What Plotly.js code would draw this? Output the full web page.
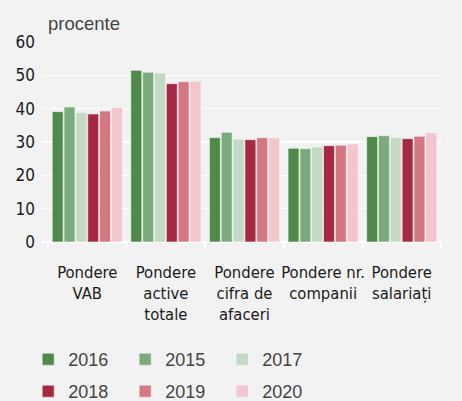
<!DOCTYPE html>
<html>
<head>
<meta charset="utf-8">
<script src="https://cdn.plot.ly/plotly-3.0.1.min.js"></script>
<style>html,body{margin:0;padding:0;background:#f2f2f2;}#chart{width:462px;height:401px;}</style>
</head>
<body>
<div id="chart"></div>
<script>
var categories = ["Pondere<br>VAB", "Pondere<br>active<br>totale", "Pondere<br>cifra de<br>afaceri", "Pondere nr.<br>companii", "Pondere<br>salariați"];
var years = ["2016", "2015", "2017", "2018", "2019", "2020"];
var v2016 = [39.1, 51.5, 31.3, 28.1, 31.6];
var v2015 = [40.5, 50.9, 32.9, 28.0, 31.9];
var v2017 = [38.8, 50.7, 30.8, 28.5, 31.3];
var v2018 = [38.4, 47.5, 30.7, 28.9, 31.0];
var v2019 = [39.3, 48.1, 31.3, 29.0, 31.7];
var v2020 = [40.3, 48.2, 31.2, 29.4, 32.8];
var series = [v2016, v2015, v2017, v2018, v2019, v2020];
var colors = ["#4e8a4a", "#7aab7c", "#c2d9c4", "#a52845", "#d37882", "#f2c6cc"];

var condensed = "DejaVu Sans Condensed, Liberation Sans Narrow, sans-serif";
var regular = "Liberation Sans, Arial, sans-serif";

var traces = years.map(function(y, i) {
  return {
    type: "bar",
    name: y,
    x: categories,
    y: series[i],
    marker: {color: colors[i], line: {color: "#f2f2f2", width: 0.6}},
    legend: i < 3 ? "legend" : "legend2",
    hoverinfo: "name+y"
  };
});

var legendCommon = {
  orientation: "h",
  xref: "container", yref: "container",
  x: 0.061, xanchor: "left", yanchor: "top",
  entrywidth: 52,
  bgcolor: "rgba(0,0,0,0)",
  font: {family: regular, size: 18, color: "#444"},
  traceorder: "normal",
  itemwidth: 30
};

var layout = {
  width: 462, height: 401,
  paper_bgcolor: "#f2f2f2",
  plot_bgcolor: "#f2f2f2",
  margin: {l: 42, r: 21, t: 42, b: 159},
  barmode: "group",
  bargap: 0.097,
  bargroupgap: 0.08,
  showlegend: true,
  legend: Object.assign({}, legendCommon, {y: 0.1496}),
  legend2: Object.assign({}, legendCommon, {y: 0.0698}),
  xaxis: {
    type: "category",
    range: [-0.576, 4.5],
    tickson: "boundaries",
    ticks: "outside",
    ticklen: 5,
    tickcolor: "#ffffff",
    tickwidth: 1.5,
    tickangle: 0,
    automargin: false,
    showgrid: false,
    showline: false,
    tickfont: {family: condensed, size: 16.5, color: "#1a1a1a"},
    ticklabelstandoff: 18
  },
  yaxis: {
    range: [0, 60],
    dtick: 10,
    gridcolor: "#ffffff",
    gridwidth: 1.5,
    zeroline: true,
    zerolinecolor: "#ffffff",
    zerolinewidth: 1.5,
    automargin: false,
    tickfont: {family: condensed, size: 17, color: "#1a1a1a"},
    ticklabelstandoff: 6,
    fixedrange: true
  },
  annotations: [{
    text: "procente",
    xref: "paper", yref: "paper",
    x: 0.01, y: 1.03,
    xanchor: "left", yanchor: "bottom",
    showarrow: false,
    font: {family: regular, size: 18.5, color: "#444"}
  }]
};

Plotly.newPlot("chart", traces, layout, {displayModeBar: false, staticPlot: true});
</script>
</body>
</html>
